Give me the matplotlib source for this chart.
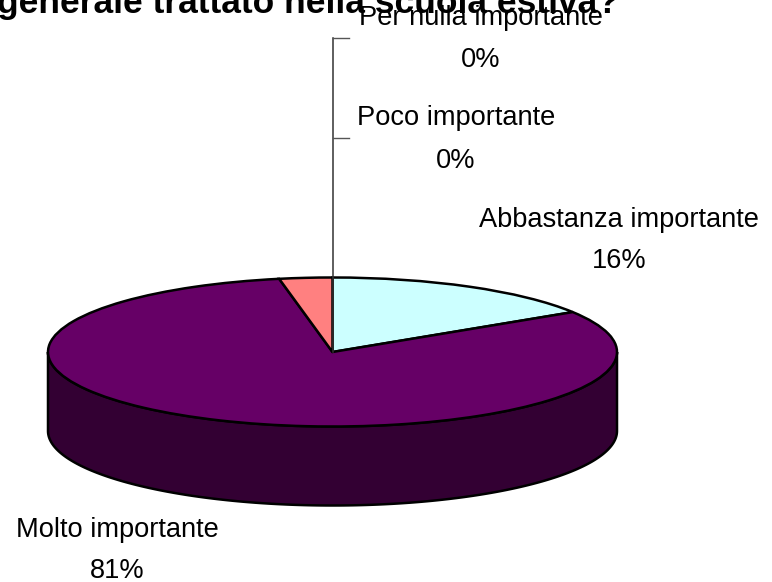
"""Torta 3D: importanza del tema trattato nella scuola estiva."""
import matplotlib
matplotlib.use("Agg")
import matplotlib.pyplot as plt
from matplotlib.patches import Wedge, Polygon
from matplotlib.transforms import Affine2D
import numpy as np

plt.rcParams["font.family"] = ["Liberation Sans", "DejaVu Sans"]

# senso orario dalle ore 12
categorie = ["Abbastanza importante", "Molto importante", "Altro"]
valori = [16, 81, 3]
colori = ["#CCFFFF", "#660066", "#FF8080"]

# etichette con la percentuale mostrata
etichette = ["Per nulla importante", "Poco importante", "Abbastanza importante", "Molto importante"]
percentuali = ["0%", "0%", "16%", "81%"]
# centro x, linea di base del nome, linea di base della percentuale
pos_etichette = [(481, 25, 67), (456, 125, 168), (619, 227, 268), (117, 537, 578)]

titolo = "generale trattato nella scuola estiva?"

W, H = 772, 582
CX, CY = 332.5, H - 352
A, B = 284.5, 74.5
DEPTH = 79
LW = 1.8

fig = plt.figure(figsize=(W / 100, H / 100), dpi=100)
ax = fig.add_axes([0, 0, 1, 1])
ax.set_xlim(0, W)
ax.set_ylim(0, H)
ax.axis("off")

# titolo tagliato dal bordo superiore
ax.text(-3, H - 13, titolo, fontsize=25.5, weight="bold", ha="left", va="baseline", zorder=1)

# fianco della torta
t = np.linspace(np.pi, 2 * np.pi, 200)
xs = CX + A * np.cos(t)
ys = CY + B * np.sin(t)
punti = np.column_stack([np.r_[xs, xs[::-1]], np.r_[ys, ys[::-1] - DEPTH]])
ax.add_patch(Polygon(punti, closed=True, facecolor="#330033", edgecolor="black", linewidth=LW, zorder=2))

# faccia superiore
trasf = Affine2D().scale(A, B).translate(CX, CY) + ax.transData
angolo = 90.0
for v, c in zip(valori, colori):
    nuovo = angolo - v * 3.6
    w = Wedge((0, 0), 1, nuovo, angolo, facecolor=c, edgecolor="black", linewidth=LW,
              transform=trasf, zorder=3)
    ax.add_patch(w)
    angolo = nuovo

# linee guida delle etichette a zero
ax.plot([CX, CX], [CY, H - 38], color="#333333", linewidth=1.1, zorder=4)
for y in (38, 138):
    ax.plot([CX, 349], [H - y, H - y], color="#555555", linewidth=1.0, zorder=4)

for nome, perc, (x, y1, y2) in zip(etichette, percentuali, pos_etichette):
    ax.text(x, H - y1, nome, fontsize=19.6, ha="center", va="baseline", zorder=5)
    ax.text(x, H - y2, perc, fontsize=19.6, ha="center", va="baseline", zorder=5)

fig.savefig("out.png", dpi=100)
plt.close(fig)
